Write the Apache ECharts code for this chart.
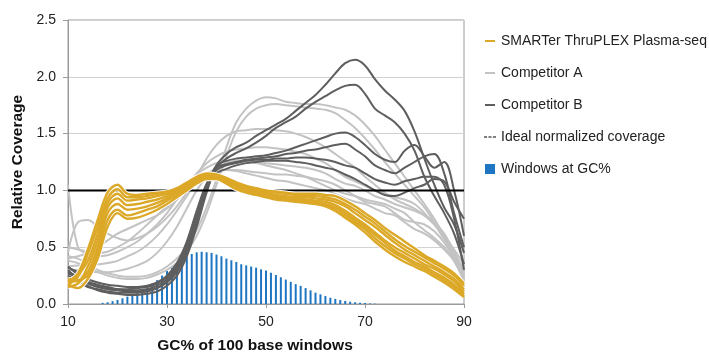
<!DOCTYPE html>
<html><head><meta charset="utf-8">
<script src="https://cdn.jsdelivr.net/npm/echarts@6/dist/echarts.min.js"></script>
<style>html,body{margin:0;padding:0;background:#fff;overflow:hidden}#c{position:absolute;left:0;top:0;width:709px;height:354px}</style>
</head><body><div id="c"></div>
<script>
// GC% sample points for the coverage curves
const gc = [10,12,14,16,18,20,22,24,26,28,30,32,34,36,38,40,42,44,46,48,50,52,54,56,58,60,62,64,66,68,70,72,74,76,78,80,82,84,86,88,90];

// SMARTer ThruPLEX Plasma-seq replicates
const smarter1 = [0.20,0.27,0.48,0.74,0.98,1.05,0.97,0.96,0.97,0.98,0.99,1.02,1.07,1.12,1.15,1.14,1.11,1.07,1.04,1.02,1.00,0.99,0.98,0.97,0.97,0.97,0.96,0.95,0.91,0.86,0.80,0.74,0.67,0.61,0.55,0.49,0.43,0.38,0.33,0.27,0.18];
const smarter2 = [0.18,0.24,0.44,0.68,0.93,1.01,0.94,0.94,0.95,0.97,0.98,1.01,1.06,1.11,1.14,1.13,1.10,1.06,1.03,1.01,0.99,0.98,0.97,0.96,0.95,0.95,0.94,0.92,0.88,0.83,0.77,0.71,0.64,0.57,0.51,0.46,0.41,0.36,0.31,0.25,0.16];
const smarter3 = [0.16,0.25,0.38,0.62,0.89,0.97,0.91,0.92,0.93,0.95,0.97,1.00,1.05,1.10,1.13,1.13,1.09,1.05,1.02,1.00,0.98,0.96,0.95,0.94,0.94,0.93,0.92,0.90,0.86,0.80,0.74,0.68,0.61,0.54,0.48,0.43,0.38,0.33,0.28,0.22,0.13];
const smarter4 = [0.22,0.20,0.33,0.56,0.85,0.93,0.87,0.88,0.90,0.92,0.95,0.99,1.04,1.09,1.13,1.12,1.08,1.04,1.01,0.99,0.97,0.95,0.94,0.93,0.92,0.91,0.90,0.87,0.82,0.76,0.70,0.63,0.56,0.50,0.45,0.40,0.35,0.31,0.26,0.20,0.11];
const smarter5 = [0.15,0.18,0.28,0.50,0.80,0.88,0.83,0.84,0.86,0.89,0.93,0.98,1.03,1.08,1.12,1.12,1.08,1.03,1.00,0.98,0.96,0.94,0.93,0.92,0.91,0.90,0.88,0.85,0.80,0.74,0.68,0.61,0.54,0.47,0.42,0.37,0.33,0.28,0.23,0.17,0.09];
const smarter6 = [0.19,0.21,0.25,0.45,0.74,0.83,0.78,0.80,0.83,0.86,0.91,0.96,1.02,1.07,1.11,1.11,1.07,1.02,0.99,0.97,0.95,0.93,0.92,0.91,0.90,0.89,0.87,0.83,0.78,0.72,0.66,0.58,0.51,0.45,0.40,0.35,0.31,0.26,0.21,0.15,0.07];
const smarter7 = [0.17,0.14,0.22,0.40,0.68,0.80,0.75,0.76,0.79,0.83,0.88,0.94,1.00,1.06,1.10,1.10,1.06,1.01,0.98,0.96,0.94,0.92,0.91,0.90,0.89,0.88,0.86,0.82,0.76,0.70,0.63,0.55,0.48,0.42,0.37,0.33,0.29,0.24,0.19,0.13,0.06];

// Competitor A replicates
const compA1 = [0.42,0.40,0.35,0.30,0.27,0.25,0.24,0.24,0.25,0.28,0.33,0.40,0.50,0.65,0.85,1.10,1.38,1.60,1.72,1.79,1.82,1.81,1.78,1.77,1.76,1.76,1.75,1.73,1.71,1.66,1.58,1.48,1.36,1.24,1.12,1.00,0.88,0.75,0.60,0.45,0.30];
const compA2 = [0.38,0.36,0.32,0.28,0.25,0.23,0.22,0.22,0.23,0.26,0.30,0.36,0.46,0.60,0.80,1.05,1.30,1.52,1.65,1.72,1.75,1.76,1.75,1.74,1.73,1.72,1.71,1.68,1.62,1.55,1.46,1.36,1.25,1.15,1.05,0.95,0.85,0.72,0.58,0.42,0.25];
const compA3 = [0.45,0.72,0.74,0.68,0.62,0.58,0.56,0.58,0.62,0.68,0.76,0.86,0.98,1.12,1.28,1.40,1.48,1.52,1.53,1.54,1.54,1.53,1.52,1.50,1.47,1.43,1.38,1.32,1.26,1.20,1.12,1.05,0.98,0.92,0.88,0.84,0.78,0.70,0.60,0.48,0.35];
const compA4 = [1.05,0.50,0.44,0.42,0.43,0.46,0.50,0.55,0.62,0.70,0.80,0.92,1.04,1.15,1.24,1.30,1.34,1.36,1.37,1.38,1.38,1.37,1.36,1.34,1.32,1.28,1.24,1.18,1.12,1.08,1.04,1.00,0.97,0.94,0.92,0.88,0.80,0.70,0.57,0.43,0.30];
const compA5 = [0.50,0.48,0.46,0.45,0.46,0.50,0.55,0.62,0.70,0.78,0.86,0.95,1.05,1.14,1.20,1.24,1.25,1.26,1.26,1.25,1.24,1.23,1.22,1.21,1.20,1.18,1.15,1.10,1.06,1.04,1.00,0.95,0.92,0.88,0.85,0.82,0.78,0.72,0.62,0.46,0.28];
const compA6 = [0.40,0.42,0.45,0.50,0.56,0.62,0.66,0.70,0.74,0.78,0.84,0.92,1.00,1.08,1.14,1.17,1.18,1.18,1.17,1.16,1.15,1.14,1.14,1.13,1.12,1.10,1.08,1.05,1.00,0.95,0.90,0.88,0.86,0.80,0.74,0.72,0.70,0.64,0.54,0.40,0.25];
const compA7 = [0.33,0.34,0.34,0.35,0.36,0.38,0.42,0.46,0.52,0.60,0.70,0.82,0.95,1.07,1.15,1.18,1.18,1.17,1.15,1.13,1.11,1.09,1.08,1.06,1.04,1.02,1.00,0.97,0.93,0.90,0.88,0.84,0.80,0.78,0.72,0.66,0.62,0.56,0.48,0.38,0.22];
const compA8 = [0.30,0.30,0.29,0.28,0.28,0.29,0.31,0.34,0.38,0.45,0.55,0.68,0.84,1.00,1.12,1.20,1.24,1.25,1.25,1.24,1.22,1.20,1.18,1.15,1.12,1.08,1.04,1.00,0.97,0.95,0.92,0.90,0.88,0.84,0.80,0.72,0.65,0.58,0.50,0.38,0.20];

// Competitor B replicates
const compB1 = [0.30,0.22,0.16,0.12,0.10,0.09,0.08,0.08,0.09,0.11,0.16,0.25,0.42,0.68,0.98,1.22,1.32,1.38,1.42,1.48,1.53,1.58,1.63,1.70,1.77,1.84,1.93,2.03,2.12,2.15,2.10,1.98,1.88,1.80,1.70,1.52,1.28,1.05,0.85,0.70,0.45];
const compB2 = [0.28,0.24,0.18,0.15,0.13,0.12,0.11,0.11,0.12,0.14,0.19,0.28,0.45,0.72,1.00,1.20,1.28,1.33,1.37,1.42,1.48,1.55,1.60,1.65,1.72,1.78,1.83,1.88,1.92,1.93,1.85,1.72,1.66,1.60,1.50,1.35,1.12,0.95,0.80,0.62,0.35];
const compB3 = [0.33,0.26,0.20,0.17,0.15,0.13,0.12,0.12,0.13,0.16,0.22,0.32,0.50,0.78,1.04,1.22,1.26,1.28,1.29,1.30,1.31,1.33,1.35,1.38,1.41,1.44,1.47,1.50,1.51,1.47,1.40,1.32,1.27,1.25,1.35,1.40,1.30,1.20,1.25,1.00,0.60];
const compB4 = [0.25,0.20,0.15,0.13,0.11,0.10,0.10,0.10,0.11,0.14,0.20,0.30,0.48,0.75,1.02,1.20,1.23,1.25,1.27,1.28,1.29,1.30,1.32,1.33,1.35,1.36,1.38,1.40,1.41,1.36,1.30,1.22,1.18,1.15,1.20,1.25,1.30,1.32,1.15,0.80,0.50];
const compB5 = [0.32,0.28,0.22,0.19,0.17,0.16,0.15,0.15,0.16,0.19,0.25,0.36,0.55,0.82,1.06,1.18,1.22,1.24,1.26,1.27,1.27,1.28,1.28,1.29,1.29,1.28,1.27,1.25,1.22,1.20,1.15,1.10,1.07,1.05,1.08,1.10,1.12,1.12,1.05,0.75,0.30];
const compB6 = [0.27,0.23,0.19,0.16,0.14,0.13,0.13,0.14,0.15,0.18,0.24,0.34,0.52,0.80,1.04,1.15,1.19,1.22,1.24,1.25,1.26,1.26,1.26,1.25,1.24,1.22,1.20,1.18,1.14,1.10,1.05,1.00,0.96,0.95,0.98,1.02,1.05,1.10,1.08,0.90,0.75];

// Ideal normalized coverage
const idealGc = [10, 90];
const idealVals = [1, 1];

// Windows at GC% (histogram)
const winGc = [17,18,19,20,21,22,23,24,25,26,27,28,29,30,31,32,33,34,35,36,37,38,39,40,41,42,43,44,45,46,47,48,49,50,51,52,53,54,55,56,57,58,59,60,61,62,63,64,65,66,67,68,69,70,71,72];
const winVals = [0.01,0.015,0.025,0.035,0.05,0.065,0.08,0.10,0.125,0.15,0.18,0.21,0.25,0.29,0.32,0.35,0.39,0.42,0.44,0.455,0.46,0.455,0.45,0.435,0.42,0.40,0.385,0.37,0.35,0.34,0.33,0.32,0.305,0.295,0.275,0.255,0.235,0.215,0.195,0.175,0.16,0.14,0.12,0.10,0.085,0.07,0.055,0.045,0.035,0.027,0.02,0.015,0.011,0.008,0.005,0.003];

// Axis ticks
const xTicks = {min: 10, max: 90, interval: 20};
const yTicks = {min: 0, max: 2.5, interval: 0.5};

const NAME_S = 'SMARTer ThruPLEX Plasma-seq';
const NAME_A = 'Competitor A';
const NAME_B = 'Competitor B';
const NAME_I = 'Ideal normalized coverage';
const NAME_W = 'Windows at GC%';

const GOLD = '#DCA827', LGRAY = '#C3C3C3', DGRAY = '#5E5E5E', BLUE = '#1E76C2';

const smarterSets = [smarter1,smarter2,smarter3,smarter4,smarter5,smarter6,smarter7];
const compASets = [compA1,compA2,compA3,compA4,compA5,compA6,compA7,compA8];
const compBSets = [compB1,compB2,compB3,compB4,compB5,compB6];

function pairs(xs, vals){ return xs.map((x,i)=>[x, vals[i]]); }
function lineSeries(name, vals, color, width, smooth){
  return {type:'line', name, data: pairs(gc, vals), showSymbol:false, symbol:'none',
    smooth: smooth, lineStyle:{color, width}, itemStyle:{color}, silent:true};
}

const series = [];
series.push({type:'bar', name:NAME_W, data: pairs(winGc, winVals), barWidth:2,
  itemStyle:{color:BLUE, borderWidth:0}, silent:true});
compASets.forEach(v => series.push(lineSeries(NAME_A, v, LGRAY, 2, 0.35)));
compBSets.forEach(v => series.push(lineSeries(NAME_B, v, DGRAY, 2, 0.35)));
series.push({type:'line', name:NAME_I, data: pairs(idealGc, idealVals), showSymbol:false, symbol:'none',
  lineStyle:{color:'#000', width:2}, itemStyle:{color:'#000'}, silent:true});
smarterSets.forEach(v => series.push(lineSeries('halo', v, '#ffffff', 4.2, 0.35)));
smarterSets.forEach(v => series.push(lineSeries(NAME_S, v, GOLD, 2.4, 0.35)));

const lineIcon = 'path://M0,0M12,14M1,6H11V8H1Z';
const dashIcon = 'path://M0,0M12,14M-1,6.4H2.6V7.6H-1ZM4.2,6.4H7.8V7.6H4.2ZM9.4,6.4H13V7.6H9.4Z';
const sqIcon = 'path://M0,0M12,14M1,2H11V12H1Z';

const chart = echarts.init(document.getElementById('c'), null, {renderer:'canvas', width:709, height:354});
chart.setOption({
  animation:false,
  textStyle:{fontFamily:'Liberation Sans, Arial, sans-serif'},
  grid:{left:68, right:245, top:20, bottom:50, outerBoundsMode:'none', containLabel:false,
    show:true, borderColor:'#9a9a9a', borderWidth:1},
  legend:{
    orient:'vertical', left:479, top:29, itemWidth:12, itemHeight:14, itemGap:18,
    textStyle:{fontSize:14, color:'#222', fontFamily:'Liberation Sans, Arial, sans-serif'},
    itemStyle:{borderWidth:0}, selectedMode:false,
    data:[
      {name:NAME_S, icon:lineIcon}, {name:NAME_A, icon:lineIcon}, {name:NAME_B, icon:lineIcon},
      {name:NAME_I, icon:dashIcon}, {name:NAME_W, icon:sqIcon}
    ]
  },
  xAxis:{type:'value', min:xTicks.min, max:xTicks.max, interval:xTicks.interval,
    name:'GC% of 100 base windows', nameLocation:'middle', nameGap:34,
    nameTextStyle:{fontSize:15.5, fontWeight:'bold', color:'#111', padding:[0,22,0,0]},
    axisLine:{lineStyle:{color:'#9a9a9a', width:1}},
    axisTick:{show:true, length:4, lineStyle:{color:'#9a9a9a'}},
    axisLabel:{fontSize:14, color:'#222', margin:11},
    splitLine:{show:false}},
  yAxis:{type:'value', min:yTicks.min, max:yTicks.max, interval:yTicks.interval,
    name:'Relative Coverage', nameLocation:'middle', nameGap:42, nameRotate:90,
    nameTextStyle:{fontSize:15.5, fontWeight:'bold', color:'#111'},
    axisLine:{show:true, lineStyle:{color:'#9a9a9a', width:1}},
    axisTick:{show:true, length:5, lineStyle:{color:'#9a9a9a'}},
    axisLabel:{fontSize:14, color:'#222', margin:12, formatter:v=>v.toFixed(1)},
    splitLine:{show:true, lineStyle:{color:'#d2d2d2', width:1}}},
  series
});
</script></body></html>
